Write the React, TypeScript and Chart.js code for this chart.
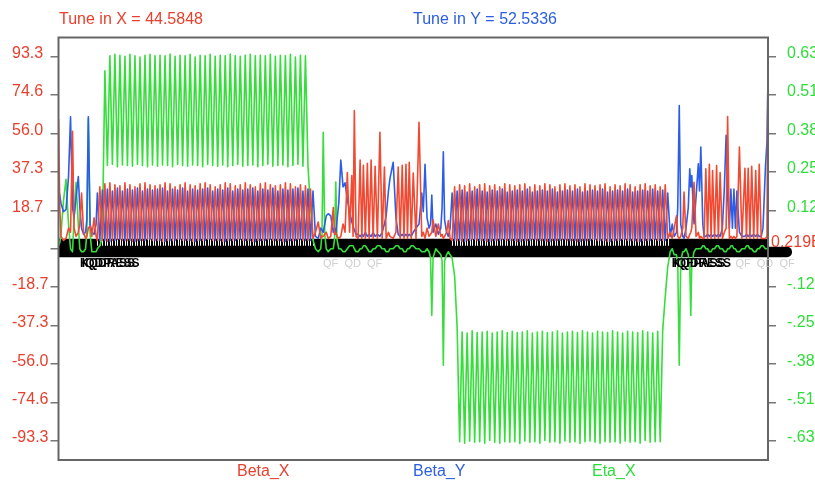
import React, { useEffect, useRef } from 'react';
import { Chart, registerables } from 'chart.js';

Chart.register(...registerables);

// ---------- header / labels ----------
const tuneX = 44.5848;
const tuneY = 52.5336;
const ringLength = '0.219E+05';
const seriesNames = ['Beta_X', 'Beta_Y', 'Eta_X'];

// left (beta, m) and right (eta, m) tick values
const betaTicks = [-93.3, -74.64, -55.98, -37.32, -18.66, 0, 18.66, 37.32, 55.98, 74.64, 93.3];
const etaTicks = [-0.6378, -0.5102, -0.3827, -0.2551, -0.1276, 0, 0.1276, 0.2551, 0.3827, 0.5102, 0.6378];
const betaRange = 102.5;
const etaRange = 0.7007;

// ---------- lattice functions (s in half-cell units) ----------
// start insertion
const startS = [0, 0.5, 1, 2, 3, 4, 4.8, 5.6, 6.2, 7, 7.9, 8.5, 9.2, 10, 10.8, 11.3, 11.9, 12.6, 13.3, 14.2, 15];
const startBetaX = [63, 20, 6, 4, 5, 10, 8, 57, 10, 6, 8, 12, 27, 8, 5, 6, 10, 11, 6, 15, 6];
const startBetaY = [29, 26, 22, 18, 19, 35, 64, 20, 15, 25, 35, 20, 10, 7, 8, 14, 64, 12, 8, 7, 12];
const startEta = [0.01, 0.02, 0.05, 0.16, 0.23, 0.08, 0.0, -0.01, 0.1, 0.22, 0.08, 0.0, -0.01, -0.01, 0.0, 0.05, 0.43, 0.05, -0.01, -0.01, -0.01];

// arc 1
const arc1S = [
  15.5, 16.5, 17.5, 18.5, 19.5, 20.5, 21.5, 22.5, 23.5, 24.5,
  25.5, 26.5, 27.5, 28.5, 29.5, 30.5, 31.5, 32.5, 33.5, 34.5,
  35.5, 36.5, 37.5, 38.5, 39.5, 40.5, 41.5, 42.5, 43.5, 44.5,
  45.5, 46.5, 47.5, 48.5, 49.5, 50.5, 51.5, 52.5, 53.5, 54.5,
  55.5, 56.5, 57.5, 58.5, 59.5, 60.5, 61.5, 62.5, 63.5, 64.5,
  65.5, 66.5, 67.5, 68.5, 69.5, 70.5, 71.5, 72.5, 73.5, 74.5,
  75.5, 76.5, 77.5, 78.5, 79.5, 80.5, 81.5, 82.5, 83.5, 84.5,
  85.5, 86.5, 87.5, 88.5, 89.5, 90.5, 91.5, 92.5, 93.5, 94.5,
  95.5, 96.5, 97.5, 98.5, 99.5, 100.5, 101.5,
];
const arc1BetaX = [
  4, 30, 4, 31.5, 3.5, 32, 4, 31, 4.5, 30.5, 4, 32, 4, 31, 3.5, 30, 4, 31.5, 4, 32,
  4.5, 31, 4, 30.5, 4, 31, 3.5, 32, 4, 31.5, 4, 30, 4.5, 31, 4, 32, 4, 31, 3.5, 30.5,
  4, 31.5, 4, 32, 4.5, 31, 4, 30, 4, 31, 3.5, 32, 4, 31.5, 4, 30.5, 4.5, 31, 4, 32,
  4, 31, 3.5, 30, 4, 31.5, 4, 32, 4.5, 31, 4, 30.5, 4, 31, 3.5, 32, 4, 31.5, 4, 30,
  4.5, 31, 4, 30.5, 4, 29, 5,
];
const arc1BetaY = [
  27, 4, 28.5, 4, 29, 3.5, 28, 4, 29.5, 4.5, 28, 4, 29, 4, 28.5, 3.5, 29.5, 4, 28, 4,
  29, 4.5, 28.5, 4, 29, 4, 29.5, 3.5, 28, 4, 29, 4, 28.5, 4.5, 29.5, 4, 28, 4, 29, 3.5,
  28.5, 4, 29, 4, 29.5, 4.5, 28, 4, 29, 4, 28.5, 3.5, 29.5, 4, 28, 4, 29, 4.5, 28.5, 4,
  29, 4, 29.5, 3.5, 28, 4, 29, 4, 28.5, 4.5, 29.5, 4, 28, 4, 29, 3.5, 28.5, 4, 29, 4,
  29.5, 4.5, 28, 4, 29, 4, 28,
];
const arc1Eta = [
  0.0, 0.01, 0.04, 0.59,
  0.276, 0.64, 0.28, 0.645, 0.272, 0.642, 0.278, 0.638, 0.276, 0.645, 0.274, 0.64, 0.28, 0.636, 0.276, 0.642, 0.272, 0.645, 0.278, 0.64,
  0.274, 0.642, 0.278, 0.64, 0.276, 0.646, 0.272, 0.638, 0.28, 0.642, 0.276, 0.64, 0.274, 0.645, 0.278, 0.636, 0.276, 0.642, 0.272, 0.64,
  0.28, 0.645, 0.276, 0.638, 0.274, 0.642, 0.278, 0.64, 0.272, 0.646, 0.276, 0.64, 0.28, 0.638, 0.274, 0.642, 0.276, 0.645, 0.278, 0.64,
  0.272, 0.642, 0.276, 0.64, 0.28, 0.645, 0.274, 0.638, 0.276, 0.642, 0.278, 0.64, 0.272, 0.645, 0.276, 0.636, 0.28, 0.642, 0.274, 0.64,
  0.276, 0.14, 0.03,
];

// middle insertion
const midS = [
  102.5, 103.6, 104.6, 105.1, 105.6, 106.2, 106.8, 107.6, 108.6, 109.6,
  110.1, 110.6, 111.1, 111.8, 112.6, 113.5, 114.3, 115.2, 116.1, 117,
  117.5, 118, 118.7, 119.5, 120.3, 121, 121.6, 122.4, 123.2, 123.9,
  124.7, 125.5, 126.3, 127.2, 128.2, 129.1, 130, 130.7, 131.6, 132.2,
  133.5, 134.6, 135.5, 136.3, 137.1, 137.8, 138.6, 139.2, 139.9, 140.7,
  141.5, 142.6, 143.8, 144.9, 145.5, 146.2, 147, 147.8, 148.4, 148.9,
  149.4, 150.5, 151.5, 152.5, 153, 153.5, 154, 154.8, 155.5, 156.2,
];
const midBetaX = [
  8, 13, 5, 6, 6, 7, 8, 5, 6, 20,
  7, 8, 6, 5, 6, 12, 8, 37, 8, 35.5,
  6, 67, 6, 5, 43, 5, 40.5, 5, 41.5, 5,
  43, 5, 40, 5, 56.5, 5, 39.6, 5, 8, 6,
  5, 8, 39.6, 5, 40.5, 5, 41, 5, 42, 5,
  36.7, 5, 61.4, 6, 8, 5, 10, 6, 7, 8,
  14, 6, 12, 6, 7, 5, 6, 8, 13.7, 5,
];
const midBetaY = [
  6, 5, 10, 9, 8, 12, 16, 17, 16, 8,
  10, 7, 14, 22, 43, 30, 32, 24, 18, 13,
  11, 9, 7, 7, 6, 7, 6, 8, 6, 7,
  6, 8, 6, 7, 6, 8, 12, 16, 28, 34,
  42, 15, 7, 6, 7, 6, 7, 6, 7, 6,
  8, 10, 12, 27, 18, 41, 15, 10, 12, 26,
  8, 12, 7, 10, 20, 47, 14, 8, 6, 10,
];
const midEta = [
  0.0, -0.01, 0.0, 0.05, 0.386, 0.05, 0.0, -0.01, 0.0, 0.0,
  0.03, 0.221, 0.03, 0.0, 0.0, -0.01, -0.01, 0.0, 0.01, 0.01,
  0.01, 0.0, -0.01, -0.01, 0.0, 0.0, 0.01, 0.01, 0.0, -0.01,
  -0.01, 0.0, 0.0, 0.01, 0.01, 0.0, 0.0, -0.01, -0.01, 0.0,
  0.0, 0.01, 0.01, 0.0, 0.0, -0.01, -0.01, 0.0, 0.0, 0.01,
  0.01, 0.0, 0.0, -0.01, -0.01, -0.01, 0.0, -0.01, -0.03, -0.221,
  -0.03, 0.0, -0.01, -0.02, -0.04, -0.386, -0.04, -0.02, -0.01, -0.02,
];

// arc 2
const arc2S = [
  157, 158, 159, 160, 161, 162, 163, 164, 165, 166,
  167, 168, 169, 170, 171, 172, 173, 174, 175, 176,
  177, 178, 179, 180, 181, 182, 183, 184, 185, 186,
  187, 188, 189, 190, 191, 192, 193, 194, 195, 196,
  197, 198, 199, 200, 201, 202, 203, 204, 205, 206,
  207, 208, 209, 210, 211, 212, 213, 214, 215, 216,
  217, 218, 219, 220, 221, 222, 223, 224, 225, 226,
  227, 228, 229, 230, 231, 232, 233, 234, 235, 236,
  237, 238, 239, 240, 241, 242, 243,
];
const arc2BetaX = [
  4, 30, 4, 31, 3.5, 30.5, 4, 31.5, 4.5, 30, 4, 31, 4, 31.5, 3.5, 30.5, 4, 31, 4, 30,
  4.5, 31.5, 4, 31, 4, 30.5, 3.5, 31, 4, 31.5, 4, 30, 4.5, 31, 4, 30.5, 4, 31.5, 3.5, 31,
  4, 30, 4, 31, 4.5, 31.5, 4, 30.5, 4, 31, 3.5, 30, 4, 31.5, 4, 31, 4.5, 30.5, 4, 31,
  4, 31.5, 3.5, 30, 4, 31, 4, 30.5, 4.5, 31.5, 4, 31, 4, 30, 3.5, 31, 4, 31.5, 4, 30.5,
  4.5, 31, 4, 30, 4, 31, 5,
];
const arc2BetaY = [
  27, 4, 28, 4, 28.5, 3.5, 27.5, 4, 28, 4.5, 29, 4, 28, 4, 27.5, 3.5, 28.5, 4, 28, 4,
  29, 4.5, 27.5, 4, 28, 4, 28.5, 3.5, 28, 4, 29, 4, 27.5, 4.5, 28, 4, 28.5, 4, 28, 3.5,
  29, 4, 27.5, 4, 28, 4.5, 28.5, 4, 28, 4, 29, 3.5, 27.5, 4, 28, 4, 28.5, 4.5, 28, 4,
  29, 4, 27.5, 3.5, 28, 4, 28.5, 4, 28, 4.5, 29, 4, 27.5, 4, 28, 3.5, 28.5, 4, 28, 4,
  29, 4.5, 28, 4, 28.5, 4, 27,
];
const arc2Eta = [
  -0.03, -0.09, -0.26,
  -0.64, -0.276, -0.645, -0.28, -0.638, -0.272, -0.642, -0.278, -0.64, -0.276, -0.645, -0.274, -0.636, -0.28, -0.642, -0.276, -0.645, -0.272, -0.64, -0.278,
  -0.642, -0.274, -0.64, -0.278, -0.646, -0.276, -0.638, -0.272, -0.642, -0.28, -0.64, -0.276, -0.645, -0.274, -0.636, -0.278, -0.642, -0.276, -0.64, -0.272,
  -0.645, -0.28, -0.638, -0.276, -0.642, -0.274, -0.64, -0.278, -0.646, -0.272, -0.64, -0.276, -0.638, -0.28, -0.642, -0.274, -0.645, -0.276, -0.64, -0.278,
  -0.642, -0.272, -0.64, -0.276, -0.645, -0.28, -0.638, -0.274, -0.642, -0.276, -0.64, -0.278, -0.645, -0.272, -0.636, -0.276, -0.642, -0.28, -0.64, -0.274,
  -0.64, -0.27, -0.16, -0.06,
];

// end insertion
const endS = [
  244, 244.8, 245.6, 246.5, 247, 247.6, 248.2, 249, 249.5, 250.3,
  251.2, 251.8, 252.2, 252.6, 253.5, 254.3, 255.2, 255.7, 256.2, 257,
  257.5, 258.2, 258.9, 259.6, 260.3, 260.9, 261.7, 262.5, 263.2, 263.9,
  264.8, 265.6, 266.3, 266.9, 267.6, 268.2, 268.8, 269.4, 270, 270.6,
  271.6, 272.6, 273.8, 274.4, 275.1, 275.8, 276.5, 277.3, 278.1, 278.8,
  279.5, 280.3, 281, 282, 282.6, 283,
];
const endBetaX = [
  8, 5, 10, 16, 6, 5, 6, 10, 27.5, 6,
  5, 7, 8, 10, 32.3, 6, 8, 5, 6, 5,
  5, 38.8, 5, 41, 5, 38, 5, 40.4, 5, 37,
  5, 8, 10, 64.2, 5, 6, 5, 6, 5, 6,
  49.3, 5, 39, 5, 39, 5, 40, 5, 38, 5,
  41, 5, 5, 5, 6, 98.6,
];
const endBetaY = [
  6, 12, 6, 8, 20, 69.5, 12, 6, 5, 10,
  20, 38.8, 30, 35.5, 12, 25, 41.2, 28, 49.3, 12,
  6, 6, 7, 6, 7, 6, 7, 6, 7, 6,
  10, 30, 55, 25, 10, 29, 10, 29, 10, 28,
  8, 6, 6, 7, 6, 7, 6, 7, 6, 7,
  6, 6, 10, 40, 52, 83,
];
const endEta = [
  -0.01, 0.0, -0.02, -0.02, -0.05, -0.386, -0.04, -0.01, -0.01, 0.0,
  -0.02, -0.06, -0.221, -0.05, -0.01, 0.0, 0.0, 0.0, 0.0, 0.01,
  0.01, 0.0, 0.0, -0.01, -0.01, 0.0, 0.0, 0.01, 0.01, 0.0,
  0.0, -0.01, -0.01, 0.0, 0.0, 0.01, 0.01, 0.0, 0.0, -0.01,
  -0.01, 0.0, 0.0, 0.01, 0.01, 0.0, 0.0, -0.01, -0.01, 0.0,
  0.0, 0.01, 0.01, 0.0, 0.0, 0.0,
];

// element name tags under the lattice band
const tagS = [8.6, 9.3, 244.6, 245.3, 105.5, 270];
const tagText = ['KQDRESS', 'IQDPASS', 'KQDRESS', 'IQFPASS', 'QF  QD  QF', 'QF  QD  QF'];
const tagDark = [true, true, true, true, false, false];

// ---------- assembled series ----------
const sPos = [...startS, ...arc1S, ...midS, ...arc2S, ...endS];
const betaX = [...startBetaX, ...arc1BetaX, ...midBetaX, ...arc2BetaX, ...endBetaX];
const betaY = [...startBetaY, ...arc1BetaY, ...midBetaY, ...arc2BetaY, ...endBetaY];
const etaX = [...startEta, ...arc1Eta, ...midEta, ...arc2Eta, ...endEta];
const quadS = [...arc1S, ...arc2S];

const RED = '#f24a32';
const BLUE = '#2d5de8';
const GREEN = '#35de3a';
const RED_T = '#e8402e';
const BLUE_T = '#2d5ee0';
const GREEN_T = '#2fdc3a';
const FONT = '16px "Liberation Sans", Arial, Helvetica, sans-serif';
const legendX = [237, 413, 592];
const legendColors = [RED_T, BLUE_T, GREEN_T];

const latticePlugin = {
  id: 'lattice',
  beforeDatasetsDraw(chart: any) {
    const { ctx, chartArea: ca, scales } = chart;
    const xs = scales.x;
    const y0 = scales.y.getPixelForValue(0);
    const left = xs.getPixelForValue(sPos[0]);
    ctx.save();
    ctx.fillStyle = '#000';
    ctx.beginPath();
    (ctx as any).roundRect(left, y0 - 2, ca.right + 24 - left, 10.5, [0, 5, 5, 0]);
    ctx.fill();
    ctx.fillRect(left, y0 - 10, ca.right - left, 8.5);
    ctx.fillStyle = '#ffffff';
    for (const s of quadS) {
      const px = Math.round(xs.getPixelForValue(s));
      ctx.fillRect(px, y0 - 10, 1, 7);
    }
    ctx.restore();
  },
  afterDraw(chart: any) {
    const { ctx, chartArea: ca, scales } = chart;
    const xs = scales.x;
    const y0 = scales.y.getPixelForValue(0);
    ctx.save();
    ctx.strokeStyle = '#666';
    ctx.lineWidth = 2;
    ctx.strokeRect(ca.left, ca.top, ca.right - ca.left, ca.bottom - ca.top);
    ctx.font = FONT;
    ctx.textBaseline = 'middle';
    ctx.textAlign = 'left';
    ctx.fillStyle = RED_T;
    ctx.fillText(`Tune in X = ${tuneX}`, 59, 20);
    ctx.fillStyle = BLUE_T;
    ctx.fillText(`Tune in Y = ${tuneY}`, 413, 20);
    chart.data.datasets.forEach((ds: any, i: number) => {
      ctx.fillStyle = legendColors[i];
      ctx.fillText(ds.label, legendX[i], 472);
    });
    ctx.fillStyle = RED_T;
    ctx.fillText(ringLength, ca.right + 3, y0 - 6);
    tagS.forEach((s, i) => {
      ctx.font = tagDark[i] ? 'bold 12px "Liberation Sans", Arial, sans-serif' : '11px "Liberation Sans", Arial, sans-serif';
      ctx.fillStyle = tagDark[i] ? '#000' : '#cfcfcf';
      ctx.fillText(tagText[i], xs.getPixelForValue(s), y0 + 15);
    });
    ctx.restore();
  },
};

const tickFont = { family: '"Liberation Sans", Arial, Helvetica, sans-serif', size: 16 };

export default function App() {
  const ref = useRef<HTMLCanvasElement>(null);
  useEffect(() => {
    const mk = (vals: number[]) => sPos.map((s, i) => ({ x: s, y: vals[i] }));
    const chart = new Chart(ref.current as HTMLCanvasElement, {
      type: 'line',
      data: {
        datasets: [
          { label: seriesNames[0], data: mk(betaX), borderColor: RED, yAxisID: 'y' },
          { label: seriesNames[1], data: mk(betaY), borderColor: BLUE, yAxisID: 'y' },
          { label: seriesNames[2], data: mk(etaX), borderColor: GREEN, yAxisID: 'y2' },
        ].map((d) => ({ ...d, borderWidth: 1.6, pointRadius: 0, tension: 0, borderJoinStyle: 'round' as const, fill: false })),
      },
      options: {
        responsive: false,
        animation: false,
        devicePixelRatio: 1,
        layout: { padding: { left: 12, right: 0, top: 37.5, bottom: 22 } },
        plugins: { legend: { display: false }, tooltip: { enabled: false }, title: { display: false } },
        scales: {
          x: { type: 'linear', min: 0, max: 283, display: false },
          y: {
            position: 'left',
            min: -betaRange,
            max: betaRange,
            afterBuildTicks: (s: any) => { s.ticks = betaTicks.map((v) => ({ value: v })); },
            afterFit: (s: any) => { s.width = 46.5; },
            grid: { drawOnChartArea: false, tickLength: 8, color: '#777', lineWidth: 1.5 },
            border: { display: false },
            ticks: {
              autoSkip: false,
              crossAlign: 'far',
              color: RED_T,
              font: tickFont,
              labelOffset: -3,
              callback: (v: any) => (Number(v) === 0 ? '' : Number(v).toFixed(1)),
            },
          },
          y2: {
            position: 'right',
            min: -etaRange,
            max: etaRange,
            afterBuildTicks: (s: any) => { s.ticks = etaTicks.map((v) => ({ value: v })); },
            afterFit: (s: any) => { s.width = 47; },
            grid: { drawOnChartArea: false, tickLength: 8, color: '#777', lineWidth: 1.5 },
            border: { display: false },
            ticks: {
              autoSkip: false,
              padding: 11,
              color: GREEN_T,
              font: tickFont,
              labelOffset: -3,
              callback: (v: any) => {
                const n = Number(v);
                if (n === 0) return '';
                return n > 0 ? n.toFixed(4) : '-' + Math.abs(n).toFixed(4).slice(1);
              },
            },
          },
        },
      },
      plugins: [latticePlugin],
    } as any);
    return () => chart.destroy();
  }, []);
  return (
    <div style={{ position: 'fixed', left: 0, top: 0, width: 815, height: 482, background: '#fff' }}>
      <canvas ref={ref} width={815} height={482} style={{ display: 'block' }} />
    </div>
  );
}
